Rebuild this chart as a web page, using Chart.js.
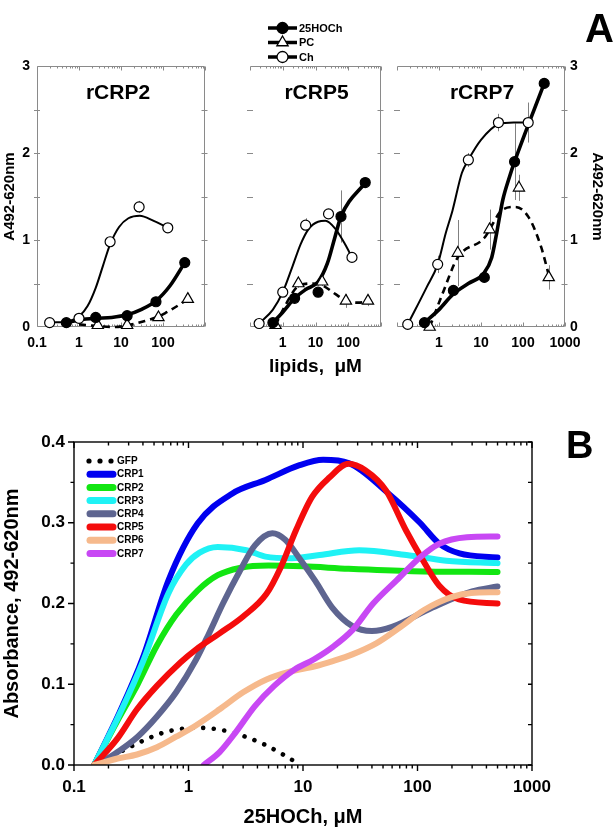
<!DOCTYPE html>
<html>
<head>
<meta charset="utf-8">
<title>CRP lipid binding</title>
<script src="https://cdn.jsdelivr.net/npm/chart.js@4.4.1/dist/chart.umd.min.js"></script>
<style>
  body { margin: 0; background: #fff; }
  #page { position: relative; width: 615px; height: 831px; overflow: hidden; font-family: Arial, "Liberation Sans", sans-serif; }
  #page canvas { position: absolute; }
  .tag { position: absolute; font-weight: bold; line-height: 1; color: #000; }
</style>
</head>
<body>
<div id="page">
  <canvas id="panelA1" width="213" height="380" style="left:0;top:0"></canvas>
  <canvas id="panelA2" width="176" height="380" style="left:213px;top:0"></canvas>
  <canvas id="panelA3" width="226" height="380" style="left:389px;top:0"></canvas>
  <canvas id="panelB" width="615" height="451" style="left:0;top:380px"></canvas>
  <div class="tag" style="left:585px;top:8px;font-size:40px">A</div>
  <div class="tag" style="left:566px;top:426px;font-size:38px">B</div>
</div>
<script>
// Panel A data (lipids, uM vs A492-620nm)
const tickA1 = [0.1, 1, 10, 100];
const tickA2 = [1, 10, 100];
const tickA3 = [1, 10, 100, 1000];
const tickAY = [0, 1, 2, 3];

// rCRP2
const p1ChX = [0.2, 1, 5.5, 27, 130];
const p1ChY = [0.05, 0.1, 0.98, 1.38, 1.14];
const p1ChErr = [0.02, 0.03, 0.05, 0.07, 0.05];
const p1ChFitX = [0.2, 0.6, 1, 1.6, 2.5, 3.7, 5.5, 9, 15, 28, 60, 130];
const p1ChFitY = [0.05, 0.07, 0.12, 0.24, 0.45, 0.7, 0.95, 1.15, 1.25, 1.28, 1.22, 1.14];
const p1HoX = [0.5, 2.5, 14, 68, 330];
const p1HoY = [0.05, 0.11, 0.13, 0.29, 0.74];
const p1HoErr = [0, 0.02, 0.03, 0.05, 0.04];
const p1HoFitX = [0.5, 1, 2.5, 6, 14, 30, 68, 150, 330];
const p1HoFitY = [0.05, 0.08, 0.1, 0.11, 0.14, 0.2, 0.3, 0.48, 0.74];
const p1PcX = [2.8, 14, 78, 390];
const p1PcY = [0.02, 0.02, 0.11, 0.32];
const p1PcErr = [0, 0, 0.03, 0.03];
const p1PcFitX = [1, 3, 6.6, 15, 32, 78, 123, 200, 390];
const p1PcFitY = [0.03, 0.01, 0.0, 0.02, 0.06, 0.12, 0.17, 0.23, 0.32];

// rCRP5
const p2ChX = [0.19, 1, 5, 25, 130];
const p2ChY = [0.04, 0.4, 1.17, 1.3, 0.8];
const p2ChErr = [0, 0.05, 0.08, 0.05, 0.05];
const p2ChFitX = [0.19, 0.5, 1, 2, 3.5, 6, 12, 20, 40, 80, 130];
const p2ChFitY = [0.04, 0.2, 0.4, 0.7, 0.95, 1.12, 1.21, 1.22, 1.13, 0.95, 0.8];
const p2HoX = [0.5, 2.3, 12, 60, 330];
const p2HoY = [0.05, 0.33, 0.4, 1.27, 1.66];
const p2HoErr = [0.02, 0.05, 0.05, 0.3, 0.04];
const p2HoFitX = [0.5, 1, 2.3, 5, 12, 23, 39, 60, 330];
const p2HoFitY = [0.05, 0.17, 0.33, 0.43, 0.52, 0.73, 1.03, 1.27, 1.66];
const p2PcX = [0.6, 3, 16, 85, 400];
const p2PcY = [0.02, 0.5, 0.52, 0.3, 0.3];
const p2PcErr = [0, 0.05, 0.05, 0.08, 0.06];
const p2PcFitX = [0.6, 1.2, 3, 8, 16, 40, 85, 200, 400];
const p2PcFitY = [0.02, 0.25, 0.47, 0.5, 0.48, 0.38, 0.3, 0.28, 0.29];

// rCRP7
const p3ChX = [0.18, 0.93, 5, 26, 133];
const p3ChY = [0.03, 0.72, 1.92, 2.35, 2.35];
const p3ChErr = [0.02, 0.1, 0.08, 0.1, 0.23];
const p3ChFitX = [0.18, 0.5, 0.93, 1.45, 2.1, 3.5, 5, 10, 26, 60, 133];
const p3ChFitY = [0.03, 0.45, 0.72, 1.08, 1.34, 1.77, 1.92, 2.15, 2.33, 2.35, 2.35];
const p3HoX = [0.45, 2.2, 12, 63, 320];
const p3HoY = [0.05, 0.42, 0.57, 1.9, 2.8];
const p3HoErr = [0.02, 0.06, 0.04, 0.44, 0.04];
const p3HoFitX = [0.45, 1, 2.2, 5, 11.8, 18, 23.6, 33, 48, 63, 320];
const p3HoFitY = [0.05, 0.2, 0.38, 0.5, 0.62, 0.8, 1.08, 1.46, 1.73, 1.9, 2.8];
const p3PcX = [0.6, 2.8, 16, 80, 410];
const p3PcY = [0, 0.85, 1.12, 1.6, 0.57];
const p3PcErr = [0, 0.38, 0.23, 0.15, 0.14];
const p3PcFitX = [0.6, 1.23, 2.8, 11.8, 33, 66, 137, 270, 410];
const p3PcFitY = [0, 0.39, 0.8, 1.02, 1.35, 1.38, 1.26, 0.92, 0.6];

// Panel B data (25HOCh, uM vs absorbance)
const tickB = [0.1, 1, 10, 100, 1000];
const seriesB = ['GFP', 'CRP1', 'CRP2', 'CRP3', 'CRP4', 'CRP5', 'CRP6', 'CRP7'];
const gfpX = [0.15, 0.26, 0.4, 0.6, 0.9, 1.3, 2, 3, 4.5, 6.5, 9.5];
const gfpY = [0, 0.017, 0.03, 0.04, 0.045, 0.046, 0.043, 0.036, 0.026, 0.014, 0];
const crp1X = [0.15, 0.25, 0.4, 0.67, 1.2, 2.4, 4.7, 9.2, 15, 25, 56, 105, 155, 233, 500];
const crp1Y = [0, 0.065, 0.133, 0.229, 0.299, 0.336, 0.353, 0.371, 0.378, 0.374, 0.336, 0.3, 0.274, 0.262, 0.257];
const crp2X = [0.15, 0.24, 0.36, 0.53, 0.78, 1.2, 1.8, 2.8, 5, 10, 25, 90, 500];
const crp2Y = [0, 0.055, 0.1, 0.148, 0.186, 0.216, 0.235, 0.244, 0.247, 0.246, 0.243, 0.24, 0.239];
const crp3X = [0.15, 0.25, 0.4, 0.67, 0.95, 1.25, 1.8, 3.2, 4.7, 8, 14, 31, 80, 178, 500];
const crp3Y = [0, 0.063, 0.128, 0.213, 0.248, 0.263, 0.27, 0.266, 0.258, 0.256, 0.26, 0.266, 0.26, 0.253, 0.25];
const crp4X = [0.16, 0.24, 0.36, 0.53, 0.78, 1.16, 1.5, 2, 2.8, 3.8, 5.4, 7, 9.2, 12.8, 18, 27, 40, 60, 135, 300, 500];
const crp4Y = [0, 0.016, 0.035, 0.06, 0.09, 0.13, 0.162, 0.2, 0.24, 0.272, 0.287, 0.279, 0.257, 0.228, 0.195, 0.172, 0.166, 0.171, 0.195, 0.215, 0.221];
const crp5X = [0.15, 0.24, 0.355, 0.53, 0.85, 1.16, 1.87, 3, 4.8, 6.4, 8.7, 12, 17, 25, 35, 53, 79, 110, 155, 230, 500];
const crp5Y = [0, 0.033, 0.069, 0.098, 0.127, 0.143, 0.163, 0.184, 0.212, 0.245, 0.291, 0.332, 0.356, 0.373, 0.365, 0.34, 0.291, 0.255, 0.222, 0.205, 0.2];
const crp6X = [0.15, 0.24, 0.355, 0.53, 0.78, 1.16, 1.87, 3, 4.8, 7.8, 12.5, 18.5, 27, 44, 71, 114, 198, 295, 500];
const crp6Y = [0, 0.008, 0.013, 0.022, 0.035, 0.049, 0.069, 0.09, 0.106, 0.116, 0.122, 0.129, 0.137, 0.151, 0.171, 0.192, 0.208, 0.213, 0.214];
const crp7X = [1.36, 1.87, 2.6, 3.8, 5.6, 8.4, 12.5, 18.5, 27, 41, 66, 105, 155, 270, 500];
const crp7Y = [0, 0.016, 0.041, 0.073, 0.098, 0.118, 0.131, 0.147, 0.167, 0.2, 0.229, 0.257, 0.274, 0.282, 0.283];
const colorsB = ['#000000', '#0000f0', '#12e612', '#1ff2f5', '#5e6590', '#f40c0c', '#f6b98c', '#c848f4'];

Chart.defaults.font.family = 'Arial, "Liberation Sans", sans-serif';
Chart.defaults.color = '#000';

const pts = (xs, ys) => xs.map((x, i) => ({ x: x, y: ys[i] }));
const tickText = (v, list) => {
  const hit = list.find(t => Math.abs(Math.log10(v / t)) < 0.001);
  return hit === undefined ? '' : String(hit);
};

// Minor positions for a log axis 0.1 - 1000
const logMarks = [];
[0.1, 1, 10, 100].forEach(d => {
  for (let m = 1; m < 10; m++) logMarks.push({ v: m * d, major: m === 1 });
});
logMarks.push({ v: 1000, major: true });

// Error bars from dataset.err
const errorBars = {
  id: 'errorBars',
  beforeDatasetsDraw(chart) {
    const { ctx, scales: { x, y } } = chart;
    ctx.save();
    ctx.strokeStyle = '#808080';
    ctx.lineWidth = 1;
    chart.data.datasets.forEach(ds => {
      if (!ds.err) return;
      ds.data.forEach((p, i) => {
        const e = ds.err[i];
        if (!e) return;
        const px = Math.round(x.getPixelForValue(p.x)) + 0.5;
        ctx.beginPath();
        ctx.moveTo(px, y.getPixelForValue(p.y + e));
        ctx.lineTo(px, y.getPixelForValue(Math.max(0, p.y - e)));
        ctx.stroke();
      });
    });
    ctx.restore();
  }
};

// Grey box with inward ticks for panel A
const frameA = {
  id: 'frameA',
  beforeDatasetsDraw(chart, args, opts) {
    const { ctx, chartArea: a, scales: { x, y } } = chart;
    ctx.save();
    ctx.strokeStyle = '#8a8a8a';
    ctx.lineWidth = 1;
    ctx.beginPath();
    const l = a.left + 0.5, r = a.right - 0.5, t = a.top + 0.5, b = a.bottom - 0.5;
    ctx.moveTo(l, t); ctx.lineTo(r, t); ctx.lineTo(r, b); ctx.lineTo(l, b);
    if (!opts.skipLeft) ctx.lineTo(l, t);
    for (let v = 0.5; v < 3; v += 0.5) {
      const py = Math.round(y.getPixelForValue(v)) + 0.5;
      ctx.moveTo(a.left - 3, py); ctx.lineTo(a.left + 3, py);
      ctx.moveTo(r - 3, py); ctx.lineTo(r + 3, py);
    }
    logMarks.forEach(m => {
      const px = Math.round(x.getPixelForValue(m.v)) + 0.5;
      const len = m.major ? 4 : 2;
      ctx.moveTo(px, t); ctx.lineTo(px, t + len);
      ctx.moveTo(px, b); ctx.lineTo(px, b - len);
    });
    ctx.stroke();
    ctx.restore();
  }
};

// Panel name inside the plot
const panelName = {
  id: 'panelName',
  afterDatasetsDraw(chart, args, opts) {
    const { ctx, chartArea: a } = chart;
    ctx.save();
    ctx.font = 'bold 21px Arial, "Liberation Sans", sans-serif';
    ctx.fillStyle = '#000';
    ctx.textAlign = 'center';
    ctx.textBaseline = 'middle';
    ctx.fillText(opts.text, (a.left + a.right) / 2 + (opts.dx || 0), 93);
    ctx.restore();
  }
};

// Symbol legend above panel A
const legendA = {
  id: 'legendA',
  afterDraw(chart) {
    const { ctx } = chart;
    const rows = [
      { text: '25HOCh', style: 'circle', fill: '#000', r: 5.5 },
      { text: 'PC', style: 'triangle', fill: '#fff', r: 6.5 },
      { text: 'Ch', style: 'circle', fill: '#fff', r: 5.5 }
    ];
    ctx.save();
    rows.forEach((row, i) => {
      const cy = 28 + i * 14.5;
      ctx.strokeStyle = '#000';
      ctx.lineWidth = 3.5;
      ctx.beginPath();
      ctx.moveTo(55, cy); ctx.lineTo(84, cy);
      ctx.stroke();
      ctx.fillStyle = row.fill;
      ctx.lineWidth = 1.3;
      Chart.helpers.drawPoint(ctx, { pointStyle: row.style, radius: row.r, borderWidth: 1.3, rotation: 0 }, 69.5, cy);
      ctx.fillStyle = '#000';
      ctx.font = 'bold 11px Arial, "Liberation Sans", sans-serif';
      ctx.textBaseline = 'middle';
      ctx.fillText(row.text, 86, cy + 0.5);
    });
    ctx.restore();
  }
};

const fitLine = (xs, ys, width, dash) => ({
  data: pts(xs, ys),
  borderColor: '#000',
  borderWidth: width,
  borderDash: dash || [],
  pointRadius: 0,
  cubicInterpolationMode: 'monotone',
  fill: false,
  clip: false,
  order: 2
});

const markers = (xs, ys, err, style, fillColor, radius) => ({
  data: pts(xs, ys),
  err: err,
  showLine: false,
  pointStyle: style,
  pointRadius: radius,
  pointBackgroundColor: fillColor,
  pointBorderColor: '#000',
  pointBorderWidth: 1.2,
  clip: false,
  order: 0
});

const makePanelA = (id, name, ticks, d, yAxis, skipLeft) => {
  const scales = {
    x: {
      type: 'logarithmic', min: 0.1, max: 1000,
      grid: { display: false, drawTicks: false }, border: { display: false },
      ticks: { autoSkip: false, maxRotation: 0, padding: 8, font: { size: 14, weight: 'bold' }, callback: v => tickText(v, ticks) },
      title: { display: id === 'panelA2', text: 'lipids,  μM', font: { size: 19, weight: 'bold' }, padding: { top: 0, bottom: 2 } },
      afterFit: s => { s.height = 53; }
    },
    y: {
      min: 0, max: 3, display: yAxis !== null, position: yAxis || 'left',
      grid: { display: false, drawTicks: false }, border: { display: false },
      ticks: { stepSize: 1, padding: yAxis === 'right' ? 5 : 7, font: { size: 14, weight: 'bold' }, callback: v => tickAY.includes(v) ? String(v) : '' },
      title: { display: true, text: 'A492-620nm', font: { size: 15, weight: 'bold' }, padding: { top: yAxis === 'right' ? 9 : 1 } },
      afterFit: s => { s.width = yAxis === 'right' ? 50 : 37; }
    }
  };
  return new Chart(document.getElementById(id), {
    type: 'line',
    data: {
      datasets: [
        fitLine(d.chFitX, d.chFitY, 2),
        fitLine(d.hoFitX, d.hoFitY, 3.6),
        fitLine(d.pcFitX, d.pcFitY, 2.6, [7, 5]),
        markers(d.chX, d.chY, d.chErr, 'circle', '#fff', 5),
        markers(d.hoX, d.hoY, d.hoErr, 'circle', '#000', 5),
        markers(d.pcX, d.pcY, d.pcErr, 'triangle', '#fff', 6.5)
      ]
    },
    options: {
      responsive: false,
      animation: false,
      devicePixelRatio: 1,
      layout: { padding: { top: 66, left: 0, right: 0, bottom: 0 } },
      scales: scales,
      plugins: {
        legend: { display: false },
        tooltip: { enabled: false },
        frameA: { skipLeft: skipLeft },
        panelName: { text: name, dx: id === 'panelA1' ? -3 : 1 }
      }
    },
    plugins: id === 'panelA2' ? [frameA, errorBars, panelName, legendA] : [frameA, errorBars, panelName]
  });
};

makePanelA('panelA1', 'rCRP2', tickA1, {
  chX: p1ChX, chY: p1ChY, chErr: p1ChErr, chFitX: p1ChFitX, chFitY: p1ChFitY,
  hoX: p1HoX, hoY: p1HoY, hoErr: p1HoErr, hoFitX: p1HoFitX, hoFitY: p1HoFitY,
  pcX: p1PcX, pcY: p1PcY, pcErr: p1PcErr, pcFitX: p1PcFitX, pcFitY: p1PcFitY
}, 'left', false);

makePanelA('panelA2', 'rCRP5', tickA2, {
  chX: p2ChX, chY: p2ChY, chErr: p2ChErr, chFitX: p2ChFitX, chFitY: p2ChFitY,
  hoX: p2HoX, hoY: p2HoY, hoErr: p2HoErr, hoFitX: p2HoFitX, hoFitY: p2HoFitY,
  pcX: p2PcX, pcY: p2PcY, pcErr: p2PcErr, pcFitX: p2PcFitX, pcFitY: p2PcFitY
}, null, true);

makePanelA('panelA3', 'rCRP7', tickA3, {
  chX: p3ChX, chY: p3ChY, chErr: p3ChErr, chFitX: p3ChFitX, chFitY: p3ChFitY,
  hoX: p3HoX, hoY: p3HoY, hoErr: p3HoErr, hoFitX: p3HoFitX, hoFitY: p3HoFitY,
  pcX: p3PcX, pcY: p3PcY, pcErr: p3PcErr, pcFitX: p3PcFitX, pcFitY: p3PcFitY
}, 'right', true);

// Panel B frame: black box, outward ticks left/bottom, inward top/right
const frameB = {
  id: 'frameB',
  afterDatasetsDraw(chart) {
    const { ctx, chartArea: a, scales: { x, y } } = chart;
    ctx.save();
    ctx.strokeStyle = '#000';
    ctx.lineWidth = 1.4;
    ctx.strokeRect(a.left, a.top, a.width, a.height);
    ctx.beginPath();
    for (let i = 0; i <= 8; i++) {
      const py = y.getPixelForValue(i * 0.05);
      const len = i % 2 === 0 ? 6 : 3.5;
      ctx.moveTo(a.left, py); ctx.lineTo(a.left - len, py);
      ctx.moveTo(a.right, py); ctx.lineTo(a.right - 4, py);
    }
    logMarks.forEach(m => {
      const px = x.getPixelForValue(m.v);
      const len = m.major ? 6 : 3.5;
      ctx.moveTo(px, a.bottom); ctx.lineTo(px, a.bottom + len);
      ctx.moveTo(px, a.top); ctx.lineTo(px, a.top + len);
    });
    ctx.stroke();
    ctx.restore();
  }
};

// Line legend inside panel B
const legendB = {
  id: 'legendB',
  afterDatasetsDraw(chart) {
    const { ctx } = chart;
    ctx.save();
    chart.data.datasets.forEach((ds, i) => {
      const cy = 81 + i * 13.2;
      if (i === 0) {
        ctx.fillStyle = ds.borderColor;
        [89, 100, 111].forEach(cx => {
          ctx.beginPath(); ctx.arc(cx, cy, 2.6, 0, Math.PI * 2); ctx.fill();
        });
      } else {
        ctx.strokeStyle = ds.borderColor;
        ctx.lineWidth = 7;
        ctx.lineCap = 'round';
        ctx.beginPath(); ctx.moveTo(90, cy); ctx.lineTo(113, cy); ctx.stroke();
      }
      ctx.fillStyle = '#000';
      ctx.font = 'bold 10px Arial, "Liberation Sans", sans-serif';
      ctx.textBaseline = 'middle';
      ctx.fillText(ds.label, 117, cy + 0.5);
    });
    ctx.restore();
  }
};

const xsB = [gfpX, crp1X, crp2X, crp3X, crp4X, crp5X, crp6X, crp7X];
const ysB = [gfpY, crp1Y, crp2Y, crp3Y, crp4Y, crp5Y, crp6Y, crp7Y];

const datasetsB = seriesB.map((name, i) => ({
  label: name,
  data: pts(xsB[i], ysB[i]),
  borderColor: colorsB[i],
  borderWidth: i === 0 ? 4.6 : 6,
  borderDash: i === 0 ? [0.01, 10.6] : [],
  borderCapStyle: 'round',
  borderJoinStyle: 'round',
  pointRadius: 0,
  cubicInterpolationMode: 'monotone',
  fill: false,
  order: 10 - i
}));

new Chart(document.getElementById('panelB'), {
  type: 'line',
  data: { datasets: datasetsB },
  options: {
    responsive: false,
    animation: false,
    devicePixelRatio: 1,
    layout: { padding: { top: 62, left: 0, right: 83, bottom: 0 } },
    scales: {
      x: {
        type: 'logarithmic', min: 0.1, max: 1000,
        grid: { display: false, drawTicks: false }, border: { display: false },
        ticks: { autoSkip: false, maxRotation: 0, padding: 12, font: { size: 17, weight: 'bold' }, callback: v => tickText(v, tickB) },
        title: { display: true, text: '25HOCh, μM', font: { size: 20, weight: 'bold' }, padding: { top: 0, bottom: 2 } },
        afterFit: s => { s.height = 66; }
      },
      y: {
        min: 0, max: 0.4,
        grid: { display: false, drawTicks: false }, border: { display: false },
        ticks: { stepSize: 0.1, padding: 9, font: { size: 17, weight: 'bold' }, callback: v => v.toFixed(1) },
        title: { display: true, text: 'Absorbance, 492-620nm', font: { size: 20, weight: 'bold' }, padding: { top: 0 } },
        afterFit: s => { s.width = 74; }
      }
    },
    plugins: { legend: { display: false }, tooltip: { enabled: false } }
  },
  plugins: [frameB, legendB]
});
</script>
</body>
</html>
